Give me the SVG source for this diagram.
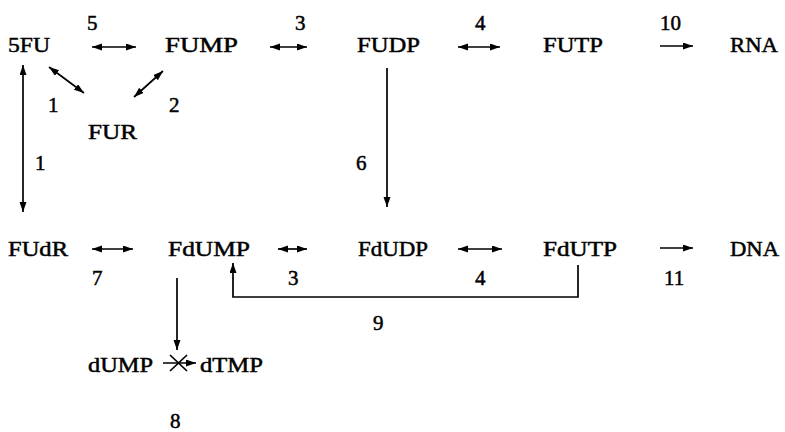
<svg xmlns="http://www.w3.org/2000/svg" width="785" height="432" viewBox="0 0 785 432">
<defs>
<marker id="ah" markerUnits="userSpaceOnUse" markerWidth="11" markerHeight="8" refX="10" refY="3.5" orient="auto-start-reverse"><path d="M0,0 L10,3.5 L0,7 Z" fill="#000"/></marker>
<style>
.c line,.c path{stroke:#000;stroke-width:1.7;fill:none;}
.d{marker-start:url(#ah);marker-end:url(#ah);}
.s{marker-end:url(#ah);}
</style>
</defs>
<rect width="785" height="432" fill="#fff"/>
<g font-family="Liberation Serif, serif" font-size="22" fill="#000" stroke="#000" stroke-width="0.5">
<g id="n-5FU"><text x="8" y="52" textLength="42" lengthAdjust="spacingAndGlyphs">5FU</text></g>
<g id="n-FUMP"><text x="165" y="52" textLength="73" lengthAdjust="spacingAndGlyphs">FUMP</text></g>
<g id="n-FUDP"><text x="357" y="52" textLength="63" lengthAdjust="spacingAndGlyphs">FUDP</text></g>
<g id="n-FUTP"><text x="543" y="52" textLength="60" lengthAdjust="spacingAndGlyphs">FUTP</text></g>
<g id="n-RNA"><text x="730" y="52" textLength="48" lengthAdjust="spacingAndGlyphs">RNA</text></g>
<g id="n-FUR"><text x="88" y="139" textLength="49" lengthAdjust="spacingAndGlyphs">FUR</text></g>
<g id="n-FUdR"><text x="8" y="256" textLength="60" lengthAdjust="spacingAndGlyphs">FUdR</text></g>
<g id="n-FdUMP"><text x="168" y="256" textLength="82" lengthAdjust="spacingAndGlyphs">FdUMP</text></g>
<g id="n-FdUDP"><text x="358" y="256" textLength="70" lengthAdjust="spacingAndGlyphs">FdUDP</text></g>
<g id="n-FdUTP"><text x="543" y="256" textLength="74" lengthAdjust="spacingAndGlyphs">FdUTP</text></g>
<g id="n-DNA"><text x="730" y="256" textLength="49" lengthAdjust="spacingAndGlyphs">DNA</text></g>
<g id="n-dUMP"><text x="88" y="372" textLength="65" lengthAdjust="spacingAndGlyphs">dUMP</text></g>
<g id="n-dTMP"><text x="200" y="372" textLength="63" lengthAdjust="spacingAndGlyphs">dTMP</text></g>
<g id="labels" font-size="21">
<text x="87" y="30">5</text>
<text x="295" y="30">3</text>
<text x="475" y="30">4</text>
<text x="660" y="30">10</text>
<text x="48" y="112">1</text>
<text x="169" y="112">2</text>
<text x="35" y="170">1</text>
<text x="356" y="170">6</text>
<text x="92" y="285">7</text>
<text x="288" y="285">3</text>
<text x="475" y="285">4</text>
<text x="664" y="285">11</text>
<text x="373" y="330">9</text>
<text x="170" y="428">8</text>
</g>
</g>
<g id="connectors" class="c">
<line class="d" x1="92" y1="47" x2="136" y2="47"/>
<line class="d" x1="270" y1="47" x2="307" y2="47"/>
<line class="d" x1="458" y1="47" x2="500" y2="47"/>
<line class="s" x1="660" y1="46" x2="693" y2="46"/>
<line class="d" x1="49" y1="67" x2="84" y2="93"/>
<line class="d" x1="134" y1="97" x2="163" y2="71"/>
<line class="d" x1="23" y1="65" x2="23" y2="212"/>
<line class="s" x1="387" y1="68" x2="387" y2="207"/>
<line class="d" x1="92" y1="249" x2="133" y2="249"/>
<line class="d" x1="278" y1="249" x2="307" y2="249"/>
<line class="d" x1="458" y1="249" x2="502" y2="249"/>
<line class="s" x1="660" y1="248" x2="693" y2="248"/>
<line class="s" x1="177" y1="278" x2="177" y2="350"/>
<path class="s" d="M578,265 V297 H233 V263"/>
<line class="s" x1="163" y1="363" x2="196" y2="363"/>
<line x1="170" y1="355" x2="187" y2="371"/>
<line x1="170" y1="371" x2="187" y2="355"/>
</g>
</svg>
